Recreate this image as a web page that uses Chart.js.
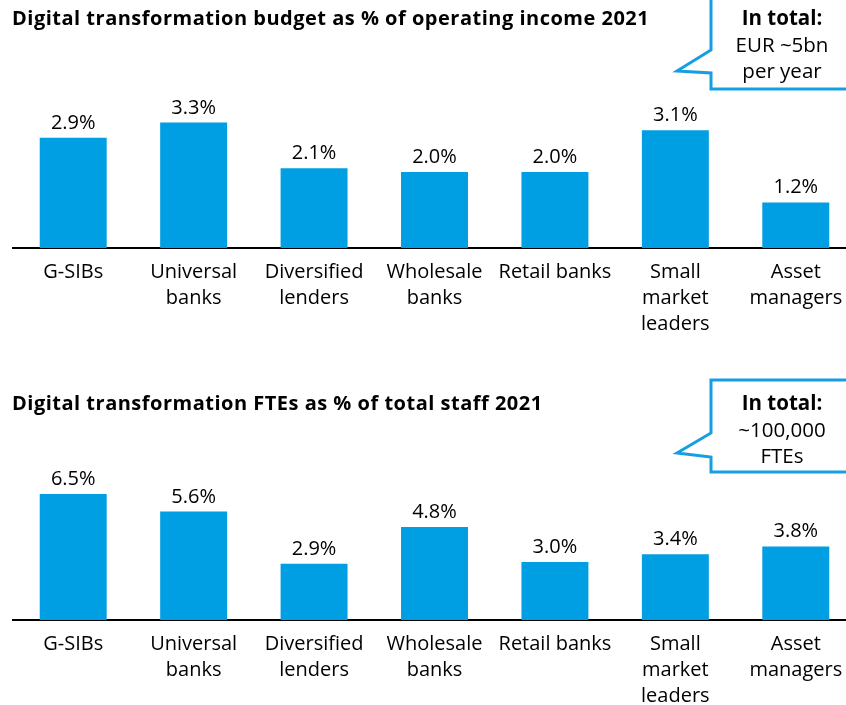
<!DOCTYPE html>
<html>
<head>
<meta charset="utf-8">
<script src="https://cdn.jsdelivr.net/npm/chart.js@4.4.0/dist/chart.umd.min.js"></script>
<style>
  html, body { margin:0; padding:0; background:#fff; }
  body { width:846px; height:705px; overflow:hidden; position:relative; font-family:"Open Sans", sans-serif; color:#000; }
  .title { position:absolute; left:12px; font-weight:bold; font-size:20px; letter-spacing:0.5px; white-space:nowrap; line-height:24px; }
  canvas { position:absolute; left:0; }
  .callout { position:absolute; left:711px; width:142px; text-align:center; font-size:20.5px; line-height:26.5px; }
  .callout b { font-weight:bold; }
  svg { position:absolute; left:0; top:0; }
</style>
</head>
<body>
<canvas id="c1" width="856" height="352" style="top:0"></canvas>
<canvas id="c2" width="856" height="353" style="top:371px"></canvas>
<div class="title" style="top:6px">Digital transformation budget as % of operating income 2021</div>
<div class="title" style="top:391px">Digital transformation FTEs as % of total staff 2021</div>
<svg width="846" height="705">
  <polyline points="711,-5 711,50 677,71 711,73 711,89 850,89" fill="none" stroke="#169fe0" stroke-width="3"/>
  <polyline points="850,380 711,380 711,433 677,453 711,457 711,472 850,472" fill="none" stroke="#169fe0" stroke-width="3"/>
</svg>
<div class="callout" style="top:4px"><b>In total:</b><br>EUR ~5bn<br>per year</div>
<div class="callout" style="top:389px"><b>In total:</b><br>~100,000<br>FTEs</div>
<script>
const categories = [["G-SIBs"], ["Universal", "banks"], ["Diversified", "lenders"], ["Wholesale", "banks"], ["Retail banks"], ["Small", "market", "leaders"], ["Asset", "managers"]];
const budgetValues = [2.9, 3.3, 2.1, 2.0, 2.0, 3.1, 1.2];
const fteValues = [6.5, 5.6, 2.9, 4.8, 3.0, 3.4, 3.8];

const barColor = "#009ee2";

const valueLabels = {
  id: "valueLabels",
  afterDatasetsDraw(chart) {
    const ctx = chart.ctx;
    ctx.save();
    ctx.font = '20px "Open Sans", sans-serif';
    ctx.fillStyle = "#000";
    ctx.textAlign = "center";
    ctx.textBaseline = "alphabetic";
    const meta = chart.getDatasetMeta(0);
    const data = chart.data.datasets[0].data;
    meta.data.forEach((bar, i) => {
      ctx.fillText(data[i].toFixed(1) + "%", bar.x, bar.y - 9);
    });
    ctx.restore();
  }
};

function makeChart(id, values, yMax, topPad) {
  return new Chart(document.getElementById(id), {
    type: "bar",
    data: {
      labels: categories,
      datasets: [{ data: values, backgroundColor: barColor, borderWidth: 0, categoryPercentage: 1, barPercentage: 0.556 }]
    },
    options: {
      responsive: false,
      animation: false,
      layout: { padding: { left: 13, right: 0, top: topPad, bottom: 0 } },
      plugins: { legend: { display: false }, tooltip: { enabled: false } },
      scales: {
        x: {
          grid: { display: false, drawTicks: false },
          border: { display: true, color: "#000", width: 2 },
          ticks: { color: "#000", font: { family: "Open Sans", size: 20, lineHeight: 1.3 }, padding: 11, maxRotation: 0, autoSkip: false },
          afterFit(axis) { axis.height = 104; }
        },
        y: { display: false, min: 0, max: yMax }
      }
    },
    plugins: [valueLabels]
  });
}

makeChart("c1", budgetValues, 4, 96);
makeChart("c2", fteValues, 8, 94);
</script>
</body>
</html>
